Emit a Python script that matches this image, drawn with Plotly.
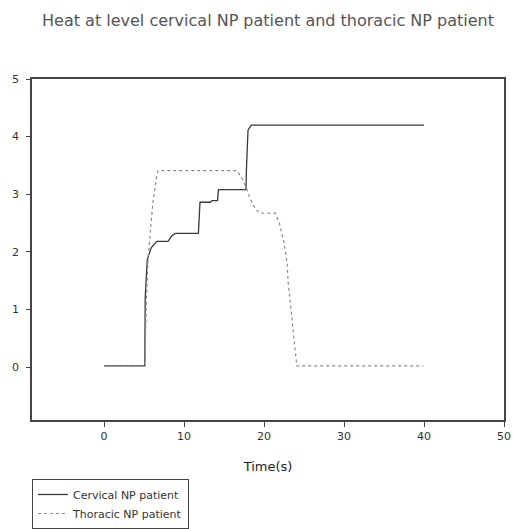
import plotly.graph_objects as go

# Heat level over time for the two patients
cervical_time = [0, 5.1, 5.15, 5.4, 5.6, 5.9, 6.4, 6.6, 8.0, 8.2, 8.5, 8.9, 11.8, 12.0, 13.3, 13.5,
                 14.2, 14.3, 17.75, 17.8, 18.0, 18.4, 40.0]
cervical_heat = [0.02, 0.02, 1.2, 1.85, 1.95, 2.07, 2.15, 2.18, 2.18, 2.22, 2.28, 2.32, 2.32, 2.86,
                 2.86, 2.89, 2.89, 3.08, 3.08, 3.41, 4.11, 4.2, 4.2]

thoracic_time = [0, 5.1, 5.3, 5.5, 5.75, 6.1, 6.5, 6.75, 16.6, 17.4, 17.9, 18.25, 18.9, 19.5, 21.4,
                 21.9, 22.5, 22.9, 23.0, 23.4, 23.6, 23.9, 24.1, 39.9]
thoracic_heat = [0.02, 0.02, 1.15, 1.85, 2.28, 2.84, 3.24, 3.41, 3.41, 3.24, 3.07, 2.93, 2.75, 2.67,
                 2.67, 2.51, 2.16, 1.79, 1.5, 0.92, 0.63, 0.28, 0.02, 0.02]

x_ticks = [0, 10, 20, 30, 40, 50]
y_ticks = [0, 1, 2, 3, 4, 5]

FONT = "DejaVu Sans"
TEXT = "#333333"
AXIS = "#444444"

fig = go.Figure()
fig.add_trace(go.Scatter(
    x=cervical_time, y=cervical_heat, mode="lines", name="Cervical NP patient",
    line=dict(color="#3a3a3a", width=1.3),
))
fig.add_trace(go.Scatter(
    x=thoracic_time, y=thoracic_heat, mode="lines", name="Thoracic NP patient",
    line=dict(color="#8a8a8a", width=1.2, dash="dot"),
))

fig.update_layout(
    width=513, height=529, autosize=False,
    margin=dict(l=32, r=9, t=79, b=109, autoexpand=False),
    paper_bgcolor="white", plot_bgcolor="white",
    font=dict(family=FONT, color=TEXT, size=11),
    title=dict(
        text="Heat at level cervical NP patient and thoracic NP patient",
        x=0.5, xref="paper", xanchor="center",
        y=1 - 20 / 529, yref="container", yanchor="middle",
        font=dict(family=FONT, size=16, color="#555555"),
    ),
    showlegend=True,
    legend=dict(
        x=0, xanchor="left", y=-0.173, yanchor="top",
        bordercolor=AXIS, borderwidth=1, bgcolor="white",
        font=dict(family=FONT, size=11, color=TEXT),
        tracegroupgap=0, entrywidth=130, entrywidthmode="pixels",
    ),
)

fig.update_xaxes(
    range=[-9, 50], tickvals=x_ticks, ticks="outside", ticklen=5, tickwidth=1.2,
    tickcolor=AXIS, showline=True, linecolor=AXIS, linewidth=1.6, mirror=True,
    showgrid=False, zeroline=False,
    tickfont=dict(family=FONT, size=11, color=TEXT),
    title=dict(text="Time(s)", font=dict(family=FONT, size=13, color="#222222"), standoff=20),
)
fig.update_yaxes(
    range=[-0.92, 5], tickvals=y_ticks, ticks="outside", ticklen=4, tickwidth=1.2,
    tickcolor=AXIS, showline=True, linecolor=AXIS, linewidth=1.6, mirror=True,
    showgrid=False, zeroline=False, ticklabelstandoff=5,
    tickfont=dict(family=FONT, size=11, color=TEXT),
)

fig.write_html("out.html")
